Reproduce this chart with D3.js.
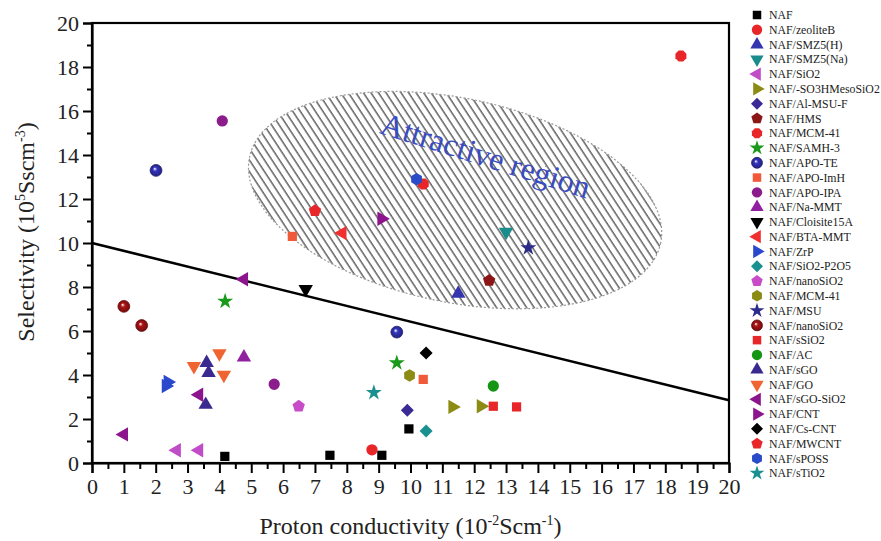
<!DOCTYPE html>
<html>
<head>
<meta charset="utf-8">
<script src="https://cdn.jsdelivr.net/npm/d3@7"></script>
<style>
  body { margin: 0; background: #fff; }
  svg { font-family: "Liberation Serif", "Times New Roman", serif; }
</style>
</head>
<body>
<div id="chart"></div>
<script>
// legend names, one per series
const seriesNames = [
  'NAF', 'NAF/zeoliteB', 'NAF/SMZ5(H)', 'NAF/SMZ5(Na)', 'NAF/SiO2', 'NAF/-SO3HMesoSiO2',
  'NAF/Al-MSU-F', 'NAF/HMS', 'NAF/MCM-41', 'NAF/SAMH-3', 'NAF/APO-TE', 'NAF/APO-ImH',
  'NAF/APO-IPA', 'NAF/Na-MMT', 'NAF/Cloisite15A', 'NAF/BTA-MMT', 'NAF/ZrP', 'NAF/SiO2-P2O5',
  'NAF/nanoSiO2', 'NAF/MCM-41', 'NAF/MSU', 'NAF/nanoSiO2', 'NAF/sSiO2', 'NAF/AC',
  'NAF/sGO', 'NAF/GO', 'NAF/sGO-SiO2', 'NAF/CNT', 'NAF/Cs-CNT', 'NAF/MWCNT',
  'NAF/sPOSS', 'NAF/sTiO2'
];

// proton conductivity (10^-2 S/cm), one array per series
const seriesX = [
  [4.17, 7.47, 9.1, 9.95], [8.79], [11.5], [13.0], [2.66, 3.36], [11.32, 12.21],
  [9.9], [12.47], [18.49, 10.4], [4.18, 9.57], [2.01, 9.57], [6.29, 10.4],
  [4.09, 5.72], [4.77], [6.71], [7.86], [2.38, 2.32], [10.49],
  [6.49], [9.97], [13.7], [1.0, 1.56], [12.6, 13.33], [12.6],
  [3.6, 3.66, 3.57], [3.2, 4.0, 4.14], [1.0, 3.36, 4.77], [9.09], [10.49], [7.0],
  [10.19], [8.85]
];

// selectivity (10^5 S s/cm^3), one array per series
const seriesY = [
  [0.3, 0.35, 0.35, 1.55], [0.6], [7.7], [10.5], [0.58, 0.58], [2.55, 2.58],
  [2.4], [8.3], [18.5, 12.68], [7.35, 4.55], [13.3, 5.95], [10.3, 3.8],
  [15.55, 3.58], [4.8], [7.9], [10.45], [3.68, 3.5], [1.45],
  [2.58], [3.98], [9.78], [7.12, 6.25], [2.58, 2.55], [3.5],
  [4.55, 4.1, 2.65], [4.4, 4.98, 4.0], [1.3, 3.1, 8.35], [11.1], [5.0], [11.47],
  [12.9], [3.2]
];

// the straight trade-off line
const lineX = [0, 20];
const lineY = [10, 2.85];

const xTicks = d3.range(0, 21, 1);
const yTicks = d3.range(0, 21, 2);

// marker styles
const markerShapes = [
  'square', 'circle', 'up', 'down', 'left', 'right',
  'diamond', 'pentagon', 'octagon', 'star', 'sphere', 'square',
  'circle', 'up', 'down', 'left', 'right', 'diamond',
  'pentagon', 'hexagon', 'star', 'sphere', 'square', 'circle',
  'up', 'down', 'left', 'right', 'diamond', 'pentagon',
  'hexagon', 'star'
];
const markerColors = [
  '#000000', '#e8262a', '#3535b0', '#1b8c8c', '#c04cc8', '#8c8c14',
  '#3a2a96', '#8c1616', '#e8262a', '#1a9a1a', '#2a2a9a', '#f05a3a',
  '#8c1c8c', '#9020a0', '#000000', '#f03030', '#2a48cc', '#1a9090',
  '#c84cc8', '#8c8c14', '#2c2c8c', '#8c1010', '#e8262a', '#149614',
  '#3a2a90', '#f06432', '#8c148c', '#8c148c', '#000000', '#e8262a',
  '#2a4cc8', '#1a9090'
];

const W = 881, H = 541;
const margin = {top: 23, right: 152, bottom: 78, left: 92};
const width = W - margin.left - margin.right;
const height = H - margin.top - margin.bottom;

const x = d3.scaleLinear().domain([0, 20]).range([0, width]);
const y = d3.scaleLinear().domain([0, 20]).range([height, 0]);

const svg = d3.select('#chart').append('svg')
  .attr('width', W)
  .attr('height', H);

const defs = svg.append('defs');

// hatch for the attractive region
defs.append('pattern')
  .attr('id', 'hatch')
  .attr('patternUnits', 'userSpaceOnUse')
  .attr('width', 6.3)
  .attr('height', 10)
  .attr('patternTransform', 'rotate(-45)')
  .append('line')
  .attr('x1', 1).attr('y1', 0).attr('x2', 1).attr('y2', 10)
  .attr('stroke', '#2a2a2a')
  .attr('stroke-width', 1.1);

// shaded balls
function sphereGrad(id, color) {
  const g = defs.append('radialGradient')
    .attr('id', id)
    .attr('cx', '50%').attr('cy', '50%').attr('r', '50%')
    .attr('fx', '38%').attr('fy', '35%');
  g.append('stop').attr('offset', '0%').attr('stop-color', '#fff');
  g.append('stop').attr('offset', '35%').attr('stop-color', d3.color(color).brighter(0.6));
  g.append('stop').attr('offset', '100%').attr('stop-color', d3.color(color).darker(0.6));
}
markerColors.forEach((c, i) => {
  if (markerShapes[i] === 'sphere') sphereGrad('sph' + i, c);
});

// regular polygon symbol, size = area
function polygon(n, startDeg) {
  return {
    draw(ctx, size) {
      const r = Math.sqrt(2 * size / (n * Math.sin(2 * Math.PI / n)));
      for (let k = 0; k < n; k++) {
        const a = (startDeg * Math.PI / 180) + k * 2 * Math.PI / n;
        const px = r * Math.cos(a), py = r * Math.sin(a);
        if (k === 0) ctx.moveTo(px, py); else ctx.lineTo(px, py);
      }
      ctx.closePath();
    }
  };
}

const shapeTypes = {
  square: d3.symbolSquare,
  circle: d3.symbolCircle,
  sphere: d3.symbolCircle,
  star: d3.symbolStar,
  up: polygon(3, -90),
  down: polygon(3, 90),
  left: polygon(3, 180),
  right: polygon(3, 0),
  diamond: polygon(4, -90),
  pentagon: polygon(5, -90),
  hexagon: polygon(6, -90),
  octagon: polygon(8, 22.5)
};
const shapeSize = {
  square: 85, circle: 100, sphere: 110, star: 80, up: 90, down: 90, left: 90,
  right: 90, diamond: 85, pentagon: 100, hexagon: 100, octagon: 100
};

function drawMarker(sel, i, scale) {
  const shape = markerShapes[i];
  const path = sel.append('path')
    .attr('d', d3.symbol().type(shapeTypes[shape]).size(shapeSize[shape] * scale)());
  if (shape === 'sphere') {
    path.attr('fill', `url(#sph${i})`)
      .attr('stroke', d3.color(markerColors[i]).darker(0.8))
      .attr('stroke-width', 0.8);
  } else {
    path.attr('fill', markerColors[i]);
  }
}

const g = svg.append('g')
  .attr('transform', `translate(${margin.left},${margin.top})`);

// attractive region
const ell = {cx: x(11.4), cy: y(11.95)};
const region = g.append('g')
  .attr('transform', `translate(${ell.cx},${ell.cy}) rotate(11.8)`);
region.append('ellipse')
  .attr('rx', 210).attr('ry', 102)
  .attr('fill', 'url(#hatch)')
  .attr('stroke', '#999')
  .attr('stroke-width', 1.2)
  .attr('stroke-dasharray', '2,2');

g.append('text')
  .attr('transform', `translate(${x(9.0)},${y(15.0)}) rotate(17.5)`)
  .attr('fill', '#3a4cc0')
  .attr('font-size', 32)
  .text('Attractive region');

// trade-off line
g.append('line')
  .attr('x1', x(lineX[0])).attr('y1', y(lineY[0]))
  .attr('x2', x(lineX[1])).attr('y2', y(lineY[1]))
  .attr('stroke', '#000')
  .attr('stroke-width', 2.6);

// data points
seriesNames.forEach((name, i) => {
  seriesX[i].forEach((vx, j) => {
    const m = g.append('g')
      .attr('transform', `translate(${x(vx)},${y(seriesY[i][j])})`);
    drawMarker(m, i, 1);
  });
});

// frame
g.append('rect')
  .attr('width', width).attr('height', height)
  .attr('fill', 'none')
  .attr('stroke', '#000')
  .attr('stroke-width', 2.2);

// axes: minor ticks first, then major with labels
g.append('g')
  .attr('transform', `translate(0,${height})`)
  .call(d3.axisBottom(x).tickValues(d3.range(0.5, 20, 1)).tickSize(6).tickFormat(''))
  .call(a => a.select('.domain').remove());
const xAxis = g.append('g')
  .attr('transform', `translate(0,${height})`)
  .call(d3.axisBottom(x).tickValues(xTicks).tickSize(10).tickPadding(5).tickFormat(d3.format('d')));
xAxis.select('.domain').attr('stroke-width', 2.2);

g.append('g')
  .call(d3.axisLeft(y).tickValues(d3.range(1, 20, 2)).tickSize(5).tickFormat(''))
  .call(a => a.select('.domain').remove());
const yAxis = g.append('g')
  .call(d3.axisLeft(y).tickValues(yTicks).tickSize(9).tickPadding(4).tickFormat(d3.format('d')));
yAxis.select('.domain').attr('stroke-width', 2.2);

g.selectAll('.tick line').attr('stroke-width', 2);
g.selectAll('.tick text')
  .attr('font-family', '"Liberation Serif", "Times New Roman", serif')
  .attr('font-size', 22)
  .attr('fill', '#222');

// axis titles
const xt = svg.append('text')
  .attr('x', margin.left + width / 2)
  .attr('y', 534)
  .attr('text-anchor', 'middle')
  .attr('font-size', 24)
  .attr('fill', '#222');
xt.append('tspan').text('Proton conductivity (10');
xt.append('tspan').attr('font-size', 14).attr('dy', -9).text('-2');
xt.append('tspan').attr('dy', 9).text('Scm');
xt.append('tspan').attr('font-size', 14).attr('dy', -9).text('-1');
xt.append('tspan').attr('dy', 9).text(')');

const yt = svg.append('text')
  .attr('transform', `translate(34,${232}) rotate(-90)`)
  .attr('text-anchor', 'middle')
  .attr('font-size', 24)
  .attr('fill', '#222');
yt.append('tspan').text('Selectivity (10');
yt.append('tspan').attr('font-size', 14).attr('dy', -9).text('5');
yt.append('tspan').attr('dy', 9).text('Sscm');
yt.append('tspan').attr('font-size', 14).attr('dy', -9).text('-3');
yt.append('tspan').attr('dy', 9).text(')');

// legend
const legend = svg.append('g').attr('transform', 'translate(757,15)');
seriesNames.forEach((name, i) => {
  const row = legend.append('g').attr('transform', `translate(0,${i * 14.78})`);
  drawMarker(row, i, 0.85);
  row.append('text')
    .attr('x', 12)
    .attr('dy', '0.35em')
    .attr('font-size', 11.8)
    .attr('fill', '#222')
    .text(name);
});
</script>
</body>
</html>
